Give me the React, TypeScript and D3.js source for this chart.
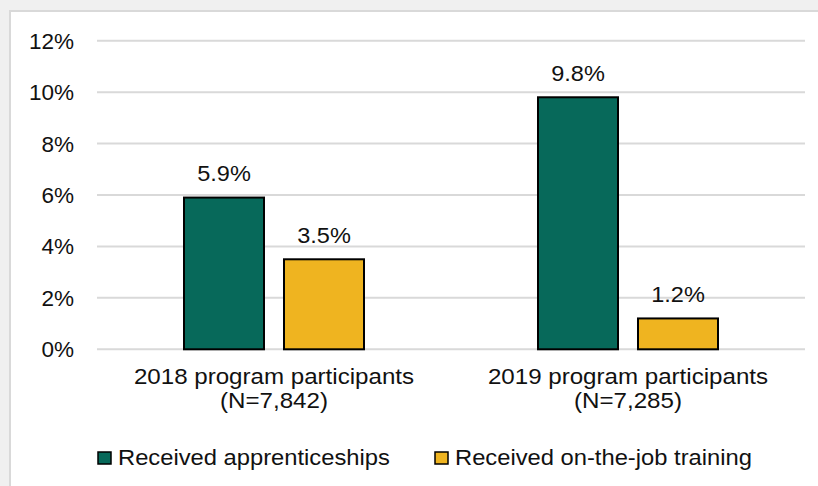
import React from "react";
import * as d3 from "d3";

const categories = ["2018 program participants", "2019 program participants"];
const categoryN = ["(N=7,842)", "(N=7,285)"];
const seriesNames = ["Received apprenticeships", "Received on-the-job training"];
const apprenticeships = [0.059, 0.098];
const onTheJob = [0.035, 0.012];
const yTicks = [0, 0.02, 0.04, 0.06, 0.08, 0.1, 0.12];
const colors = ["#07695a", "#efb420"];

const W = 818;
const H = 486;

export default function App() {
  const x = d3.scaleBand<string>().domain(categories).range([97, 805]).padding(0);
  const bw = x.bandwidth();
  const xs = d3
    .scaleBand<string>()
    .domain(seriesNames)
    .range([bw / 2 - 90, bw / 2 + 90])
    .paddingInner(0.2)
    .paddingOuter(0);
  const y = d3.scaleLinear().domain([0, 0.12]).range([349.3, 40.7]);
  const fmt = (v: number) => d3.format(".1f")(v * 100) + "%";
  const series = [apprenticeships, onTheJob];
  const font = "'Liberation Sans', Arial, sans-serif";
  const ink = "#111111";

  return (
    <svg
      width={W}
      height={H}
      style={{ position: "absolute", left: 0, top: 0, display: "block" }}
      fontFamily={font}
    >
      <rect x={0} y={0} width={W} height={H} fill="#f0f0f0" />
      <rect x={10} y={11} width={W + 20} height={H + 20} fill="#ffffff" stroke="#d9d9d9" strokeWidth={2} />

      {yTicks.map((t) => (
        <g key={t}>
          <line x1={97} x2={805} y1={y(t)} y2={y(t)} stroke="#d9d9d9" strokeWidth={2} />
          <g transform={`translate(74,${y(t)}) scale(1.01,1)`}>
            <text dy="0.36em" textAnchor="end" fontSize={22.3} fill={ink}>
              {d3.format(".0%")(t)}
            </text>
          </g>
        </g>
      ))}

      {categories.map((c, ci) => (
        <g key={c}>
          {series.map((s, si) => {
            const bx = (x(c) as number) + (xs(seriesNames[si]) as number);
            const v = s[ci];
            return (
              <g key={si}>
                <rect
                  x={bx}
                  y={y(v)}
                  width={xs.bandwidth()}
                  height={y(0) - y(v)}
                  fill={colors[si]}
                  stroke="#000"
                  strokeWidth={2}
                />
                <g transform={`translate(${bx + xs.bandwidth() / 2},${y(v) - 16.5}) scale(1.07,1)`}>
                  <text textAnchor="middle" fontSize={22} fill={ink}>
                    {fmt(v)}
                  </text>
                </g>
              </g>
            );
          })}
          <g transform={`translate(${(x(c) as number) + bw / 2},383.5) scale(1.087,1)`}>
            <text textAnchor="middle" fontSize={22.2} fill={ink}>
              {c}
            </text>
          </g>
          <g transform={`translate(${(x(c) as number) + bw / 2},408) scale(1.087,1)`}>
            <text textAnchor="middle" fontSize={22.2} fill={ink}>
              {categoryN[ci]}
            </text>
          </g>
        </g>
      ))}

      {seriesNames.map((n, i) => {
        const lx = [98, 435][i];
        return (
          <g key={n}>
            <rect x={lx} y={452} width={13} height={12} fill={colors[i]} stroke="#000" strokeWidth={1.5} />
            <g transform={`translate(${lx + 20},465) scale(1.08,1)`}>
              <text fontSize={22} fill={ink}>
                {n}
              </text>
            </g>
          </g>
        );
      })}
    </svg>
  );
}
